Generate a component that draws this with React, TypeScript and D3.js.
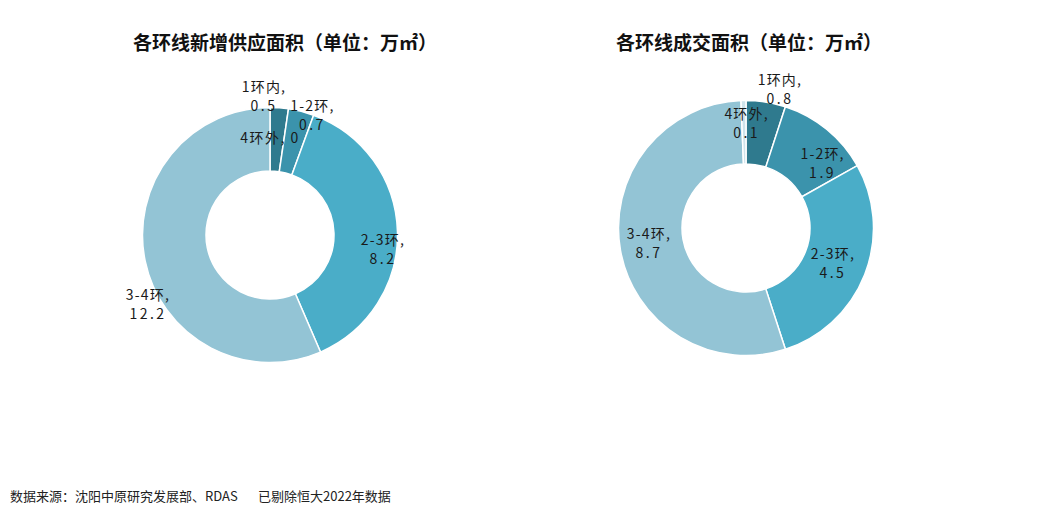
import React from 'react';
import * as d3 from 'd3';

// ring categories, shared by both donuts
const rings = ['1环内', '1-2环', '2-3环', '3-4环', '4环外'];
const supplyValues = [0.5, 0.7, 8.2, 12.2, 0];
const dealValues = [0.8, 1.9, 4.5, 8.7, 0.1];

const supplyTitle = '各环线新增供应面积（单位：万㎡）';
const dealTitle = '各环线成交面积（单位：万㎡）';
const sourceNote = '数据来源：沈阳中原研究发展部、RDAS';
const extraNote = '已剔除恒大2022年数据';

const colors = ['#2f7a8e', '#3b93ac', '#4aadc8', '#93c4d5', '#cfe3eb'];

// excel-ish label nudges away from the arc centroid
const supplyNudge: [number, number][] = [[-13, -42], [19, -26], [17.5, 18], [-28.5, 51], [0, 0]];
const dealNudge: [number, number][] = [[19, -43], [16, 10.5], [-2, 2], [-3, 0], [2.5, -8]];

const W = 1040, H = 508;
const font = '"Noto Sans CJK SC", "Noto Sans", sans-serif';

type DonutProps = {
  title: string;
  values: number[];
  cx: number;
  cy: number;
  titleX: number;
  nudge: [number, number][];
  oneLine: number[];
};

function Donut({ title, values, cx, cy, titleX, nudge, oneLine }: DonutProps) {
  const outer = 127.5, inner = 64;
  const pie = d3.pie<number>().sort(null).value(d => d);
  const arcs = pie(values);
  const arc = d3.arc<d3.PieArcDatum<number>>().innerRadius(inner).outerRadius(outer);
  const mid = d3.arc<d3.PieArcDatum<number>>().innerRadius(95.5).outerRadius(95.5);

  return (
    <g>
      <text x={titleX} y={50} textAnchor="middle" fontFamily={font} fontSize={19} fontWeight="bold" fill="#111">{title}</text>
      <g transform={`translate(${cx},${cy})`}>
        {arcs.map((a, i) => (
          <path key={i} d={arc(a) || ''} fill={colors[i]} stroke="#fff" strokeWidth={a.value > 0 ? 1.5 : 0} />
        ))}
        {arcs.map((a, i) => {
          const [x, y] = mid.centroid(a);
          const lx = x + nudge[i][0], ly = y + nudge[i][1];
          const num = d3.format('.1~f')(a.value);
          if (oneLine.includes(i)) {
            return (
              <text key={i} x={lx} y={ly} textAnchor="middle" dominantBaseline="middle" fontFamily={font} fontSize={14} fill="#1a1a1a" letterSpacing={1.5}>
                {`${rings[i]}, ${num}`}
              </text>
            );
          }
          return (
            <text key={i} x={lx} textAnchor="middle" fontFamily={font} fontSize={14} fill="#1a1a1a" letterSpacing={1.2}>
              <tspan x={lx} y={ly - 9.5} dominantBaseline="middle">{`${rings[i]},`}</tspan>
              <tspan x={lx} y={ly + 9.5} dominantBaseline="middle" letterSpacing={2.5}>{num}</tspan>
            </text>
          );
        })}
      </g>
    </g>
  );
}

export default function App() {
  return (
    <svg width={W} height={H} style={{ position: 'absolute', left: 0, top: 0, background: '#fff' }}>
      <rect width={W} height={H} fill="#fff" />
      <Donut title={supplyTitle} values={supplyValues} cx={270} cy={235} titleX={285} nudge={supplyNudge} oneLine={[4]} />
      <Donut title={dealTitle} values={dealValues} cx={746} cy={228} titleX={749} nudge={dealNudge} oneLine={[]} />
      <text x={10} y={501} fontFamily={font} fontSize={13} fill="#222">{sourceNote}</text>
      <text x={258} y={501} fontFamily={font} fontSize={13} fill="#222">{extraNote}</text>
    </svg>
  );
}
